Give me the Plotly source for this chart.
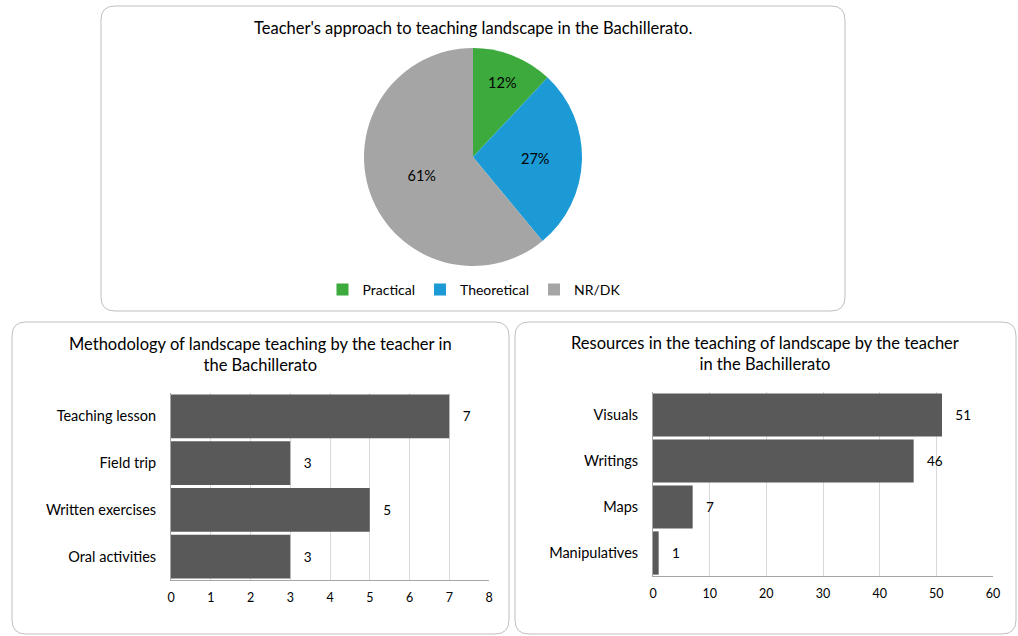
import plotly.graph_objects as go

W, H = 1018, 636

# ---- data ----
pie_labels = ["Practical", "Theoretical", "NR/DK"]
pie_values = [12, 27, 61]
pie_colors = ["#3DAA3D", "#1B9AD6", "#A5A5A5"]

method_labels = ["Teaching lesson", "Field trip", "Written exercises", "Oral activities"]
method_values = [7, 3, 5, 3]

res_labels = ["Visuals", "Writings", "Maps", "Manipulatives"]
res_values = [51, 46, 7, 1]

FONT = "Lato, Open Sans, sans-serif"
BAR = "#595959"


def px_x(x):
    return x / W


def px_y(y):
    return 1 - y / H


fig = go.Figure()

fig.add_trace(go.Pie(
    labels=pie_labels, values=pie_values,
    marker=dict(colors=pie_colors, line=dict(color="white", width=0)),
    sort=False, direction="clockwise", rotation=0,
    texttemplate="%{percent:.0%}", textposition="inside",
    insidetextfont=dict(color="#000000", size=14.5, family=FONT),
    domain=dict(x=[px_x(358), px_x(588)], y=[px_y(266), px_y(48)]),
    showlegend=True, hoverinfo="label+percent", automargin=False,
))

fig.add_trace(go.Bar(
    x=method_values, y=method_labels, orientation="h",
    marker=dict(color=BAR, line=dict(width=0)),
    text=method_values, texttemplate="   %{x}", textposition="outside",
    textfont=dict(color="#000000", size=13.5, family=FONT),
    cliponaxis=False, xaxis="x", yaxis="y", showlegend=False,
))

fig.add_trace(go.Bar(
    x=res_values, y=res_labels, orientation="h",
    marker=dict(color=BAR, line=dict(width=0)),
    text=res_values, texttemplate="   %{x}", textposition="outside",
    textfont=dict(color="#000000", size=13.5, family=FONT),
    cliponaxis=False, xaxis="x2", yaxis="y2", showlegend=False,
))

axis_common = dict(
    showgrid=True, gridcolor="#D9D9D9", gridwidth=1,
    showline=True, linecolor="#A6A6A6", linewidth=1,
    ticks="", zeroline=False, ticklabelstandoff=6, automargin=False,
    tickfont=dict(size=12.5, color="#000000", family=FONT),
)

ycommon = dict(showgrid=False, showline=True, linecolor="#A6A6A6",
               ticks="", ticklabelstandoff=11, automargin=False,
               tickfont=dict(size=14.5, color="#000000", family=FONT))

fig.update_layout(
    width=W, height=H, autosize=False,
    margin=dict(l=0, r=0, t=0, b=0, pad=0, autoexpand=False),
    paper_bgcolor="white", plot_bgcolor="white",
    font=dict(family=FONT, color="#000000"),
    bargap=0.06,
    xaxis=dict(domain=[px_x(171), px_x(489)], range=[0, 8], dtick=1,
               anchor="y", **axis_common),
    yaxis=dict(domain=[px_y(580), px_y(393)], autorange="reversed",
               anchor="x", **ycommon),
    xaxis2=dict(domain=[px_x(653), px_x(993)], range=[0, 60], dtick=10,
                anchor="y2", **axis_common),
    yaxis2=dict(domain=[px_y(576), px_y(392)], autorange="reversed",
                anchor="x2", **ycommon),
    legend=dict(orientation="h", x=px_x(474), xanchor="center",
                y=px_y(290), yanchor="middle",
                font=dict(size=14, color="#000000", family=FONT),
                itemwidth=30, bgcolor="rgba(0,0,0,0)"),
)


def rounded_rect(x0, y0, x1, y1, r=14):
    def P(x, y):
        return f"{px_x(x):.5f},{px_y(y):.5f}"
    return (f"M {P(x0 + r, y0)} L {P(x1 - r, y0)} Q {P(x1, y0)} {P(x1, y0 + r)} "
            f"L {P(x1, y1 - r)} Q {P(x1, y1)} {P(x1 - r, y1)} "
            f"L {P(x0 + r, y1)} Q {P(x0, y1)} {P(x0, y1 - r)} "
            f"L {P(x0, y0 + r)} Q {P(x0, y0)} {P(x0 + r, y0)} Z")


for (a, b, c, d) in [(101, 6, 845, 311), (12, 322, 509, 634), (515, 322, 1016, 634)]:
    fig.add_shape(type="path", path=rounded_rect(a, b, c, d), xref="paper", yref="paper",
                  line=dict(color="#BFBFBF", width=1), fillcolor="rgba(0,0,0,0)", layer="below")

titles = [
    ("Teacher's approach to teaching landscape in the Bachillerato.", 473, 28),
    ("Methodology of landscape teaching by the teacher in<br>the Bachillerato", 260, 354),
    ("Resources in the teaching of landscape by the teacher<br>in the Bachillerato", 765, 353),
]
for t, x, y in titles:
    fig.add_annotation(text=t, x=px_x(x), y=px_y(y), xref="paper", yref="paper",
                       showarrow=False, xanchor="center", yanchor="middle",
                       font=dict(size=16.5, color="#000000", family=FONT))

css_js = ("var s=document.createElement('style');"
          "s.innerHTML='html,body{margin:0!important;padding:0!important;overflow:hidden!important;}';"
          "document.head.appendChild(s);")

fig.write_html("out.html", config={"displayModeBar": False}, post_script=css_js)
